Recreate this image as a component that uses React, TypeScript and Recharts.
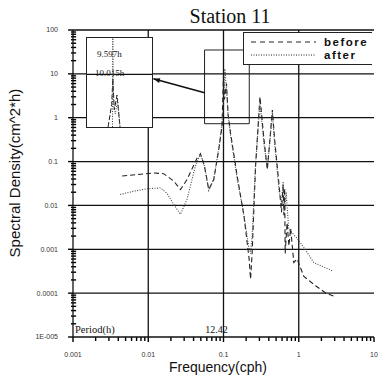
import React from 'react'
import { LineChart, Line, XAxis, YAxis, ReferenceLine, ReferenceArea, ReferenceDot, Legend } from 'recharts'

// main spectrum
const freqBefore = [0.0045, 0.0118, 0.016, 0.0218, 0.0268, 0.0328, 0.0446, 0.0494, 0.0558, 0.0637, 0.0743, 0.0865, 0.0955, 0.0998, 0.103, 0.1096, 0.115, 0.124, 0.152, 0.187, 0.219, 0.229, 0.24, 0.267, 0.305, 0.345, 0.382, 0.414, 0.446, 0.478, 0.55, 0.59, 0.62, 0.635, 0.65, 0.66, 0.7, 0.74, 0.78, 0.86, 0.95, 1.17, 1.69, 2.3, 2.93]
const densityBefore = [0.047, 0.055, 0.053, 0.036, 0.023, 0.039, 0.12, 0.15, 0.079, 0.023, 0.039, 0.19, 0.63, 9, 2.6, 6, 1.2, 0.45, 0.047, 0.0058, 0.0006, 0.00021, 0.0008, 0.079, 3.0, 0.32, 0.066, 0.32, 1.5, 0.32, 0.027, 0.007, 0.03, 0.006, 0.025, 0.0008, 0.004, 0.0012, 0.003, 0.0005, 0.0006, 0.00024, 0.000145, 0.0001, 0.000085]

const freqAfter = [0.00423, 0.00637, 0.0096, 0.0145, 0.0177, 0.0218, 0.0268, 0.0328, 0.0423, 0.0494, 0.0558, 0.0637, 0.0743, 0.0865, 0.0955, 0.101, 0.1042, 0.109, 0.115, 0.124, 0.152, 0.187, 0.215, 0.229, 0.24, 0.267, 0.305, 0.345, 0.382, 0.414, 0.446, 0.478, 0.55, 0.59, 0.62, 0.65, 0.68, 0.736, 0.97, 1.17, 1.58, 2.84]
const densityAfter = [0.0178, 0.021, 0.024, 0.025, 0.019, 0.0105, 0.0063, 0.0138, 0.079, 0.15, 0.08, 0.022, 0.04, 0.2, 0.7, 3, 13, 5, 1.2, 0.4, 0.04, 0.006, 0.0012, 0.0008, 0.002, 0.09, 2.2, 0.25, 0.07, 0.3, 1.3, 0.25, 0.02, 0.012, 0.035, 0.008, 0.02, 0.0029, 0.0017, 0.0011, 0.0005, 0.00032]

// zoomed inset around the 0.1 cph peak
const insetFreqBefore = [0.0962, 0.099, 0.09985, 0.101, 0.1031, 0.1054]
const insetDensityBefore = [0.6, 2, 8, 1.5, 3.3, 0.6]
const insetFreqAfter = [0.0996, 0.09985, 0.1003, 0.1018, 0.1035, 0.1054]
const insetDensityAfter = [0.6, 70, 2, 1.2, 2.6, 0.6]

const xDecades = [0.001, 0.01, 0.1, 1, 10]
const xDecadeLabels = ['0.001', '0.01', '0.1', '1', '10']
const yDecades = [1e-5, 1e-4, 0.001, 0.01, 0.1, 1, 10, 100]
const yDecadeLabels = ['1E-005', '0.0001', '0.001', '0.01', '0.1', '1', '10', '100']

const tidePeriod = 12.42

const toRows = (fs: number[], ss: number[]) => fs.map((f, i) => ({ f, s: ss[i] }))
const before = toRows(freqBefore, densityBefore)
const after = toRows(freqAfter, densityAfter)
const insetBefore = toRows(insetFreqBefore, insetDensityBefore)
const insetAfter = toRows(insetFreqAfter, insetDensityAfter)

const minorOf = (decades: number[]) => {
  const out: number[] = []
  decades.slice(0, -1).forEach(d => {
    for (let m = 2; m <= 9; m++) out.push(m * d)
  })
  return out
}
const xMinor = minorOf(xDecades)
const yMinor = minorOf(yDecades)

// multiplicative steps for short tick segments on the log axes (~4-5px)
const yDown4 = 0.81
const yDown5 = 0.77
const xLeft2 = 0.94
const xRight3 = 1.1
const xLeft5 = 0.86

const xMin = xDecades[0]
const yMin = yDecades[0]

const findDecade = (list: number[], v: number) => list.findIndex(d => Math.abs(v / d - 1) < 1e-6)

function XTick(props: any) {
  const { x, y, payload } = props
  const i = findDecade(xDecades, payload.value)
  if (i < 0) return <g />
  return <text x={x} y={y + 20} textAnchor="middle" fontSize={7} fill="#333" fontFamily="Arial">{xDecadeLabels[i]}</text>
}

function YTick(props: any) {
  const { x, y, payload } = props
  const i = findDecade(yDecades, payload.value)
  if (i < 0) return <g />
  return <text x={x - 15} y={y} dy="0.35em" textAnchor="end" fontSize={7} fill="#333" fontFamily="Arial">{yDecadeLabels[i]}</text>
}

function Arrow(p: any) {
  const { x1, y1, x2, y2 } = p
  const a = Math.atan2(y2 - y1, x2 - x1)
  const h = 7
  const pts = [
    [x2, y2],
    [x2 - h * Math.cos(a - 0.35), y2 - h * Math.sin(a - 0.35)],
    [x2 - h * Math.cos(a + 0.35), y2 - h * Math.sin(a + 0.35)],
  ].map(q => q.join(',')).join(' ')
  return (
    <g>
      <line x1={x1} y1={y1} x2={x2} y2={y2} stroke="#111" strokeWidth={1.6} />
      <polygon points={pts} fill="#111" />
    </g>
  )
}

function LegendBox() {
  const row = (dash: string, label: string) => (
    <div style={{ display: 'flex', alignItems: 'center', height: 13 }}>
      <svg width={72} height={6}>
        <line x1={7} x2={72} y1={3} y2={3} stroke="#222" strokeWidth={1} strokeDasharray={dash} />
      </svg>
      <span style={{ marginLeft: 8, fontSize: 11.5, fontWeight: 'bold', letterSpacing: 1.5, fontFamily: 'Arial', color: '#111' }}>{label}</span>
    </div>
  )
  return (
    <div style={{ width: 129, height: 33, background: '#fff', borderTop: '1px solid #222', borderLeft: '1px solid #222', borderBottom: '1px solid #222', boxSizing: 'border-box', paddingTop: 2 }}>
      {row('5 4', 'before')}
      {row('1 1.5', 'after')}
    </div>
  )
}

const serif = 'Times New Roman, serif'
const tickStroke = { stroke: '#000', strokeWidth: 1.4 }

export default function App() {
  return (
    <div style={{ position: 'absolute', left: 0, top: 0, width: 378, height: 378, background: '#fff', fontFamily: 'Arial' }}>
      <LineChart width={378} height={378} margin={{ top: 30, right: 4, bottom: 21, left: 28 }}>
        <XAxis type="number" dataKey="f" scale="log" domain={[0.001, 10]} allowDataOverflow
          ticks={xDecades} interval={0}
          tick={XTick} tickLine={false} tickSize={0} tickMargin={0} height={20} axisLine={{ stroke: '#111', strokeWidth: 1.3 }} />
        <YAxis type="number" dataKey="s" scale="log" domain={[1e-5, 100]} allowDataOverflow
          ticks={yDecades} interval={0}
          tick={YTick} tickLine={false} tickSize={0} tickMargin={0} width={45} axisLine={{ stroke: '#111', strokeWidth: 1.3 }} />
        {xMinor.map(v => (
          <ReferenceLine key={'mx' + v} ifOverflow="visible" {...tickStroke}
            segment={[{ x: v, y: yMin }, { x: v, y: yMin * yDown4 }]} />
        ))}
        {xDecades.map(v => (
          <ReferenceLine key={'Mx' + v} ifOverflow="visible" {...tickStroke}
            segment={[{ x: v, y: yMin }, { x: v, y: yMin * yDown5 }]} />
        ))}
        {yMinor.map(v => (
          <ReferenceLine key={'my' + v} ifOverflow="visible" {...tickStroke}
            segment={[{ x: xMin * xLeft2, y: v }, { x: xMin * xRight3, y: v }]} />
        ))}
        {yDecades.map(v => (
          <ReferenceLine key={'My' + v} ifOverflow="visible" {...tickStroke}
            segment={[{ x: xMin * xLeft5, y: v }, { x: xMin, y: v }]} />
        ))}
        {yDecades.slice(1).map(v => (
          <ReferenceLine key={'y' + v} y={v} stroke="#111" strokeWidth={1.3} />
        ))}
        {xDecades.slice(1, 4).map(v => (
          <ReferenceLine key={'x' + v} x={v} stroke="#111" strokeWidth={1.3} />
        ))}
        <ReferenceArea x1={0.056} x2={0.22} y1={0.73} y2={35} fill="none" stroke="#222" strokeWidth={1} />
        <ReferenceLine segment={[{ x: 0.056, y: 3.7 }, { x: 0.0117, y: 7.7 }]} shape={Arrow} />
        <ReferenceDot x={1 / tidePeriod} y={1e-5} r={0} fill="none" stroke="none"
          label={{ value: '12.42', position: 'top', offset: 4, fontSize: 10, fill: '#111', fontFamily: serif }} />
        <Line data={before} dataKey="s" type="linear" stroke="#222" strokeWidth={1.1} strokeDasharray="5 3" dot={false} isAnimationActive={false} />
        <Line data={after} dataKey="s" type="linear" stroke="#444" strokeWidth={1.1} strokeDasharray="1 1.5" dot={false} isAnimationActive={false} />
        <Legend layout="horizontal" verticalAlign="middle" align="center" content={LegendBox}
          wrapperStyle={{ position: 'absolute', left: 243, top: 32, width: 129, height: 33, right: 'auto', bottom: 'auto' }} />
      </LineChart>

      <div style={{ position: 'absolute', left: 86, top: 37, width: 67, height: 91, background: '#fff', border: '1px solid #222', boxSizing: 'border-box' }}>
        <LineChart width={65} height={89} margin={{ top: 0, right: 0, bottom: 0, left: 0 }}>
          <XAxis type="number" dataKey="f" domain={[0.08, 0.13]} allowDataOverflow hide />
          <YAxis type="number" dataKey="s" scale="log" domain={[0.6, 70]} allowDataOverflow hide />
          <ReferenceLine y={10} stroke="#111" strokeWidth={1.3} />
          <Line data={insetBefore} dataKey="s" type="linear" stroke="#222" strokeWidth={1} strokeDasharray="5 2" dot={false} isAnimationActive={false} />
          <Line data={insetAfter} dataKey="s" type="linear" stroke="#444" strokeWidth={1} strokeDasharray="1 1.5" dot={false} isAnimationActive={false} />
        </LineChart>
        <div style={{ position: 'absolute', left: 10, top: 11, fontSize: 9, fontFamily: serif, color: '#111' }}>9.597h</div>
        <div style={{ position: 'absolute', left: 8, top: 30, fontSize: 9, fontFamily: serif, color: '#111' }}>10.015h</div>
      </div>

      <div style={{ position: 'absolute', left: 150, top: 5, width: 160, textAlign: 'center', fontSize: 20, lineHeight: '22px', fontFamily: serif, color: '#111' }}>Station 11</div>
      <div style={{ position: 'absolute', left: 118, top: 359, width: 200, textAlign: 'center', fontSize: 14, lineHeight: '16px', color: '#111' }}>Frequency(cph)</div>
      <div style={{ position: 'absolute', left: -85, top: 165, width: 200, height: 16, textAlign: 'center', fontSize: 15, lineHeight: '16px', color: '#111', transform: 'rotate(-90deg)' }}>Spectral Density(cm^2*h)</div>
      <div style={{ position: 'absolute', left: 75, top: 324, fontSize: 10.5, fontFamily: serif, color: '#111' }}>Period(h)</div>
    </div>
  )
}
